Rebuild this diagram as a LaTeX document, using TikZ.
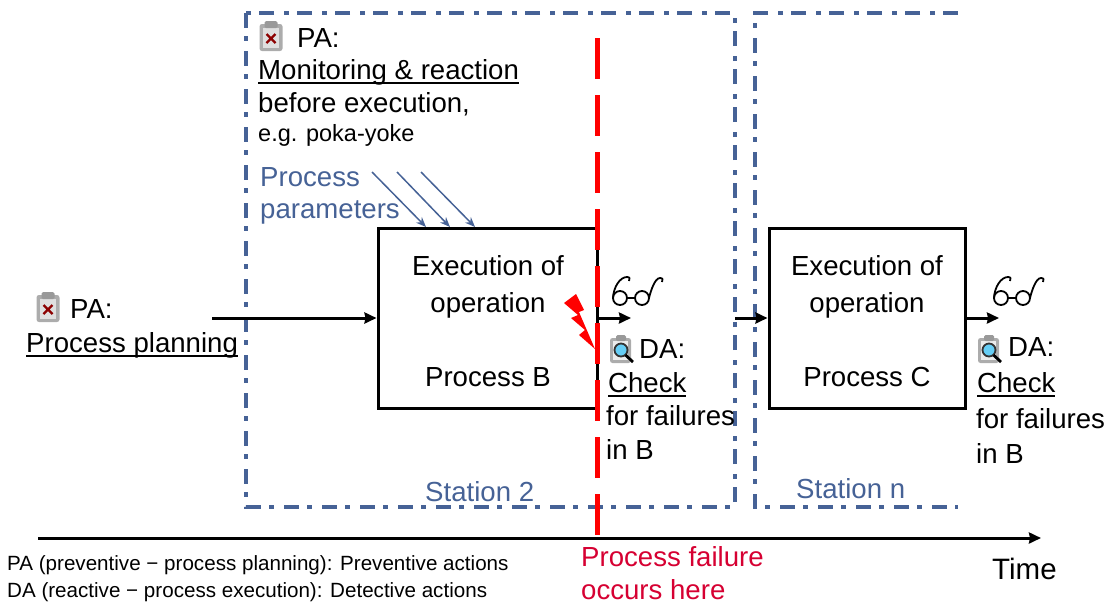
\documentclass[tikz,border=0pt]{standalone}
\usepackage{fontspec}
\setmainfont{Liberation Sans}
\usetikzlibrary{arrows.meta}
\definecolor{stationblue}{RGB}{70,98,150}
\definecolor{failred}{RGB}{214,0,50}
\newcommand{\ultext}[1]{\setbox0\hbox{#1}\rlap{\rule[-5pt]{\wd0}{2pt}}\box0}
\tikzset{
	line/.style={anchor=base west, inner sep=0pt, font=\fontsize{27.6}{28}\selectfont},
	midline/.style={anchor=base, inner sep=0pt, font=\fontsize{27.6}{28}\selectfont},
	small/.style={anchor=base west, inner sep=0pt, font=\fontsize{23.5}{24}\selectfont},
	legend/.style={anchor=base west, inner sep=0pt, font=\fontsize{20.6}{21}\selectfont},
	blueline/.style={line, text=stationblue},
	redline/.style={line, text=failred},
	opbox/.style={draw, line width=3pt, minimum height=180pt, inner sep=0pt},
	station/.style={draw=stationblue, line width=3.1pt, dash pattern=on 15pt off 8pt on 5pt off 10pt},
	flow/.style={line width=3pt, -{Stealth[length=12pt,width=11pt,inset=1pt]}},
	param/.style={draw=stationblue, line width=1.5pt, -{Stealth[length=10pt,width=8pt]}},
	clipbrd/.pic={
		\fill[gray!65, rounded corners=2.5pt] (-11.5,-12) rectangle (11.5,15);
		\fill[gray!25] (-8,-8) rectangle (8,12);
		\fill[gray!80, rounded corners=1.5pt] (-6.5,-15) rectangle (6.5,-8);
		\draw[red!55!black, line width=2.2pt] (-4.5,-2) -- (4.5,7) (4.5,-2) -- (-4.5,7);
	},
	magclip/.pic={
		\fill[gray!65, rounded corners=2.5pt] (-12,-11) rectangle (9,14);
		\fill[gray!15] (-9,-8) rectangle (6,11);
		\fill[gray!80, rounded corners=1.5pt] (-6,-14) rectangle (4,-8);
		\draw[black!80, line width=1.8pt, fill=cyan!60] (-1,1) circle (6.5);
		\draw[black, line width=2.8pt] (3.5,6) -- (11,13);
	},
	specs/.pic={
		\draw[line width=1.8pt] (0,0) circle (7) (22,0) circle (7);
		\draw[line width=1.8pt] (7,0) -- (15,0);
		\draw[line width=1.8pt] (-7,0) .. controls (-6.5,-11) and (0,-21) .. (7,-21) .. controls (10,-21) and (10,-19) .. (9,-17);
		\draw[line width=1.8pt] (29,0) .. controls (31,-8) and (35,-20) .. (40,-20) .. controls (43,-20) and (43,-18) .. (42,-16);
	},
}
\begin{document}
\begin{tikzpicture}[x=1pt, y=-1pt]
	\useasboundingbox (0,0) rectangle (1109,606);

	\draw[station] (246,13) rectangle (735,507);
	\draw[station] (958,13) -- (755,13) -- (755,507) -- (958,507);

	\node[opbox, minimum width=219pt] (boxB) at (487.5,318) {};
	\node[opbox, minimum width=196pt] (boxC) at (867,318) {};

	\pic at (271,36) {clipbrd};
	\node[line] (paTop) at (297,47) {PA:};
	\node[line] (monitor) at (258,79) {\ultext{Monitoring \& reaction}};
	\node[line] (before) at (258,112) {before execution,};
	\node[small] (poka) at (258,141) {e.g. poka-yoke};
	\node[blueline] (procParam) at (260,186) {Process};
	\node[blueline] (parameters) at (260,218) {parameters};

	\coordinate (parA) at (372,172);
	\coordinate (parB) at (397,172);
	\coordinate (parC) at (421,172);
	\coordinate (parAend) at (426,227);
	\coordinate (parBend) at (450,227);
	\coordinate (parCend) at (475,227);
	\draw[param] (parA) to (parAend);
	\draw[param] (parB) to (parBend);
	\draw[param] (parC) to (parCend);

	\node[midline] (execB) at (488,275) {Execution of};
	\node[midline] (operB) at (488,312) {operation};
	\node[midline] (procB) at (488,386) {Process B};
	\node[midline] (execC) at (867,275) {Execution of};
	\node[midline] (operC) at (867,312) {operation};
	\node[midline] (procC) at (867,386) {Process C};

	\pic at (48,307) {clipbrd};
	\node[line] (paLeft) at (70,318) {PA:};
	\node[line] (planning) at (26,352) {\ultext{Process planning}};

	\coordinate (inStart) at (212,318);
	\coordinate (outB) at (631,318);
	\coordinate (inC) at (735,318);
	\coordinate (outC) at (999,318);
	\draw[flow] (inStart) to (boxB.west);
	\draw[flow] (boxB.east) to (outB);
	\draw[flow] (inC) to (boxC.west);
	\draw[flow] (boxC.east) to (outC);

	\pic at (620,298) {specs};
	\pic at (1001,298) {specs};

	\pic at (622,349) {magclip};
	\node[line] (daB) at (639,358) {DA:};
	\node[line] (checkB) at (608,392) {\ultext{Check}};
	\node[line] (failB) at (606,425) {for failures};
	\node[line] (inB) at (606,459) {in B};

	\pic at (990,349) {magclip};
	\node[line] (daC) at (1008,356) {DA:};
	\node[line] (checkC) at (977,392) {\ultext{Check}};
	\node[line] (failC) at (976,428) {for failures};
	\node[line] (inBtwo) at (976,463) {in B};

	\node[blueline] (stationTwo) at (425,501) {Station 2};
	\node[blueline] (stationN) at (796,498) {Station n};

	\coordinate (failTop) at (597,38);
	\coordinate (failEnd) at (597,535);
	\draw[red, line width=5pt, dash pattern=on 41pt off 16pt] (failTop) to (failEnd);
	\fill[red] (564,303) -- (576,294) -- (584,310) -- (579,312) -- (595,349) -- (579,335) -- (585,330) -- (571,318) -- (578,315) -- cycle;

	\coordinate (timeStart) at (38,538);
	\coordinate (timeEnd) at (1041,538);
	\draw[flow] (timeStart) to (timeEnd);

	\node[redline] (failOne) at (581,566) {Process failure};
	\node[redline] (failTwo) at (581,599) {occurs here};
	\node[line, font=\fontsize{29.5}{30}\selectfont] (timeLabel) at (992,579) {Time};
	\node[legend] (legendPA) at (7,570) {PA (preventive − process planning): Preventive actions};
	\node[legend] (legendDA) at (7,597) {DA (reactive − process execution): Detective actions};
\end{tikzpicture}
\end{document}
